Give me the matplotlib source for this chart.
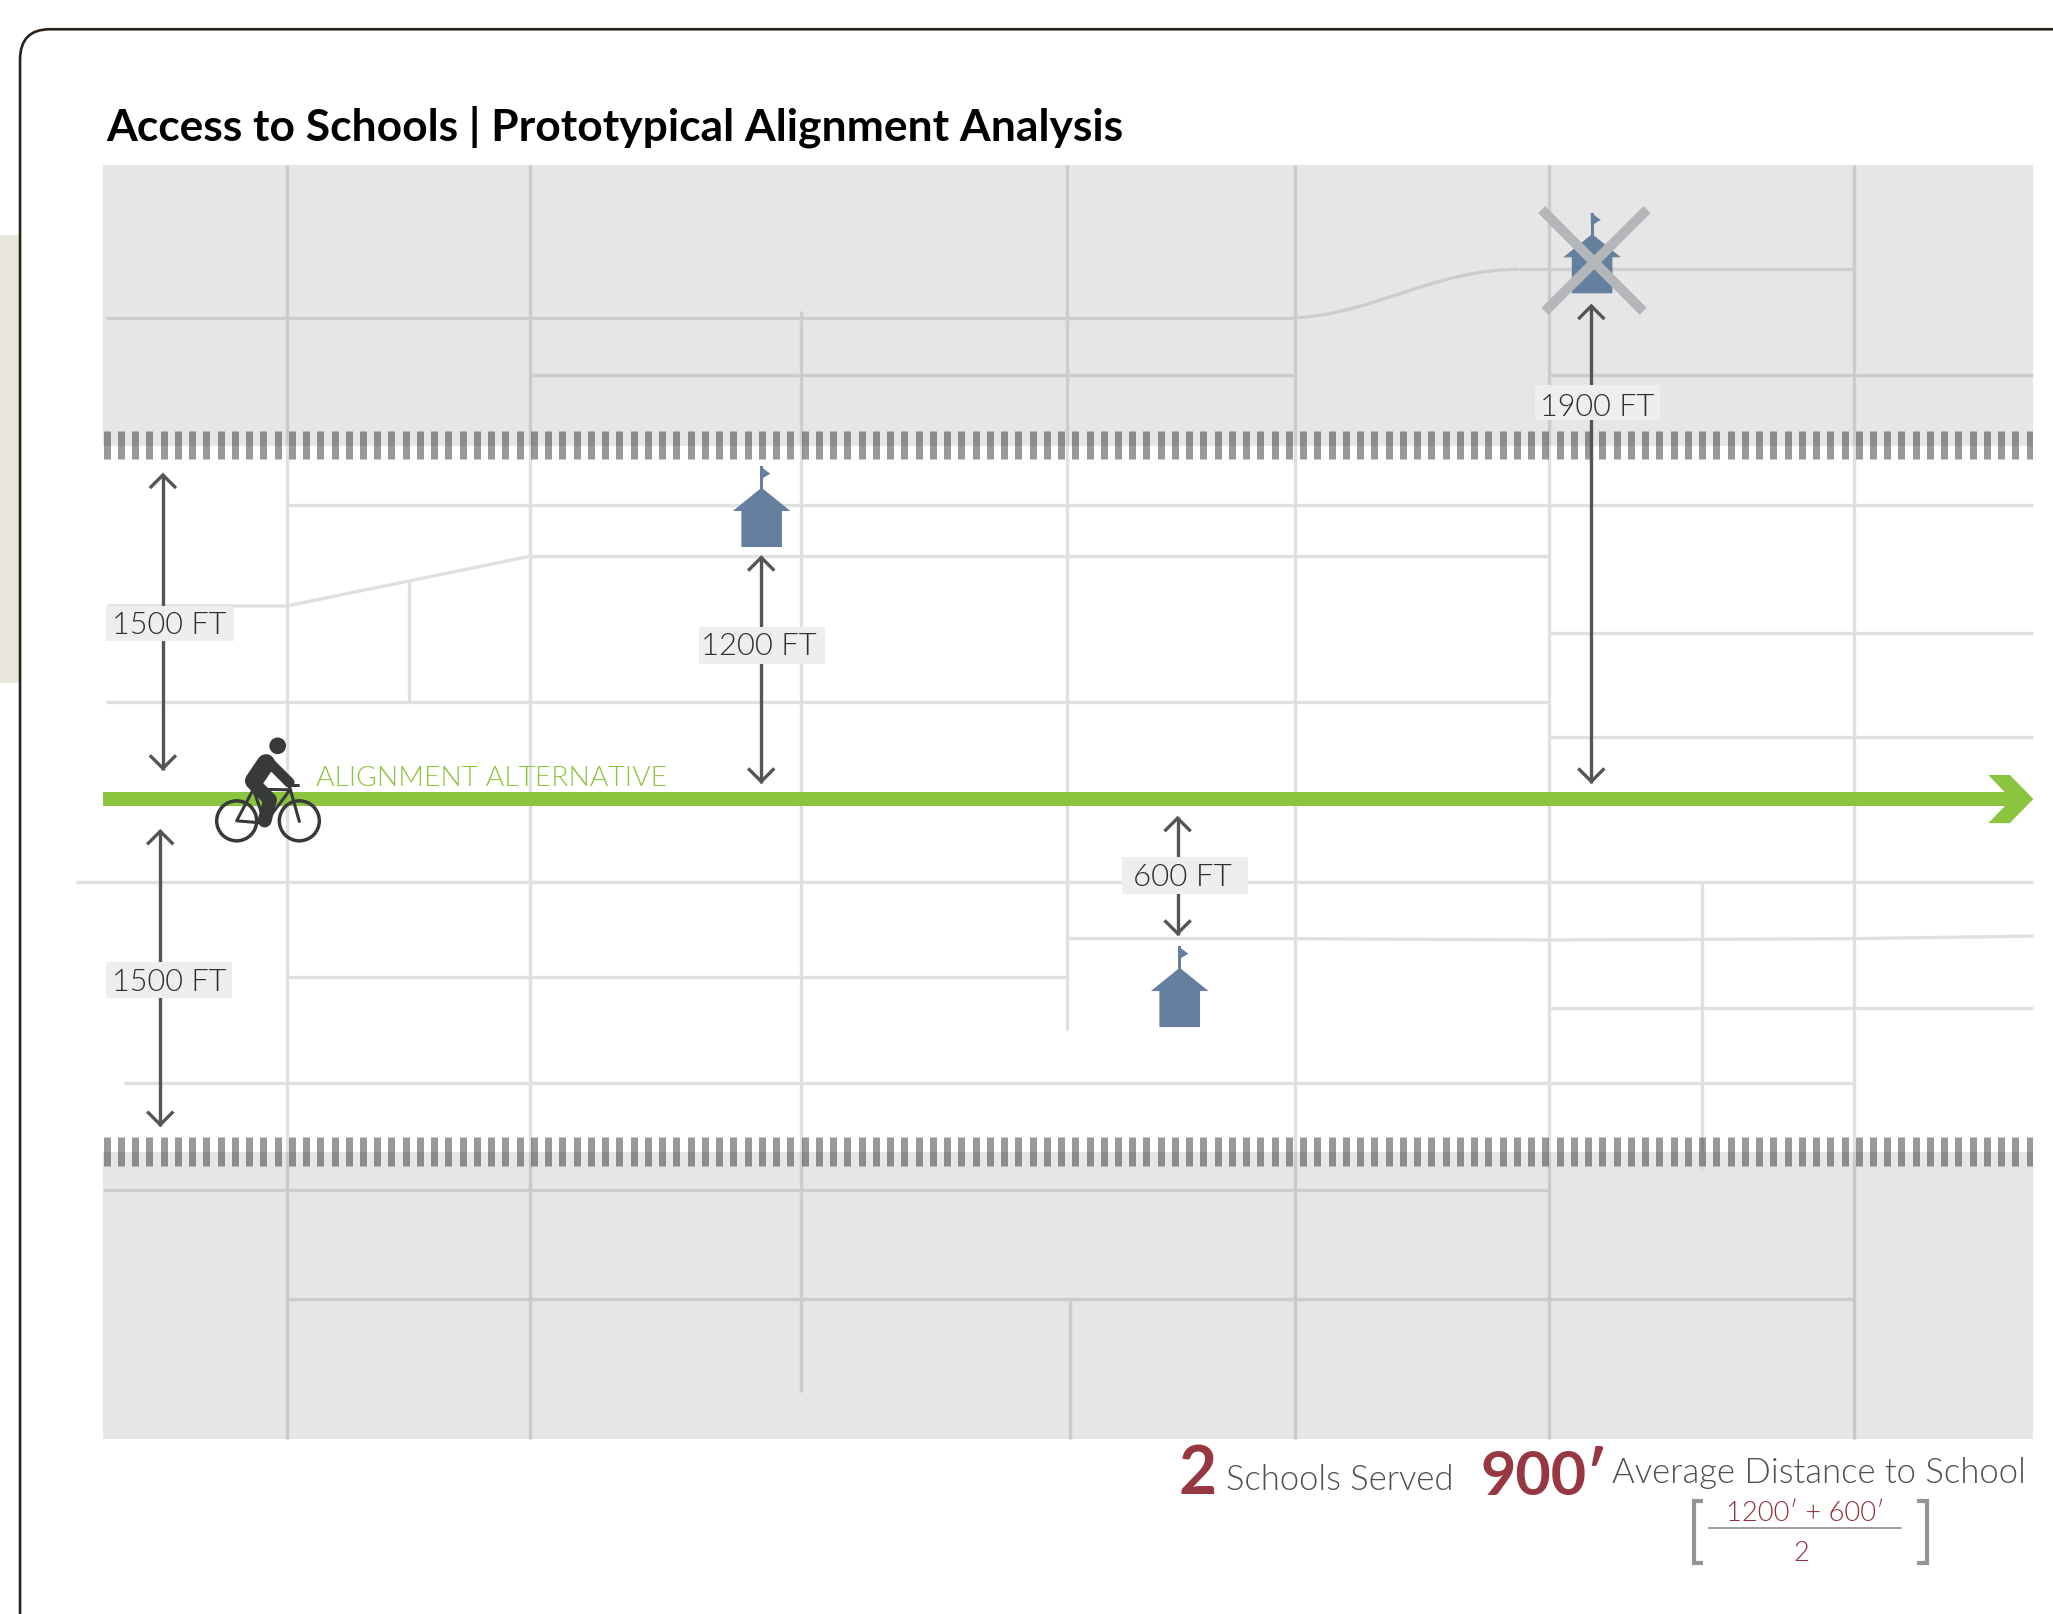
import numpy as np
import matplotlib
matplotlib.use("Agg")
import matplotlib.pyplot as plt
from matplotlib import font_manager as fm
from matplotlib.patches import Rectangle, Polygon, Circle
from matplotlib.path import Path
from matplotlib.patches import PathPatch

TITLE = "Access to Schools | Prototypical Alignment Analysis"
ALIGN_LABEL = "ALIGNMENT ALTERNATIVE"

# Road network (1568x1233 view units)
dark_vertical_x = [219, 405, 989, 1183, 1416]
roads_light = [
    [(219, 386), (1553, 386)], [(405, 425), (1183, 425)],
    [(82, 463), (219, 463), (405, 425)], [(312, 444), (312, 536)],
    [(81, 536), (1183, 536)], [(1183, 484), (1553, 484)], [(1183, 563), (1553, 563)],
    [(58, 674), (1553, 674)], [(815, 717), (989, 717), (1183, 718), (1416, 717), (1553, 715)],
    [(219, 746), (815, 746)], [(1183, 770), (1553, 770)], [(95, 827), (1416, 827)],
    [(1300, 674), (1300, 895)], [(815, 340), (815, 787)], [(612, 340), (612, 880)],
]
roads_dark = [
    [(81, 243), (989, 243)], [(1160, 206), (1416, 206)],
    [(405, 287), (989, 287)], [(1183, 287), (1553, 287)], [(612, 238), (612, 340)], [(815, 126), (815, 340)],
    [(79, 909), (1183, 909)], [(219, 992), (1416, 992)], [(817, 992), (817, 1099)], [(612, 880), (612, 1063)],
]
road_curve = [(989, 243), (1050, 240), (1095, 206), (1160, 206)]
rail_y = [340, 879.5]

# Distance annotations: x, y start, y end
arrows_x = [124.4, 122.4, 581.4, 899.4, 1215.4]
arrows_top = [362, 634, 425, 624, 233]
arrows_bottom = [588, 860, 598, 714, 598]

dist_labels = ["1500 FT", "1500 FT", "1200 FT", "600 FT", "1900 FT"]
box_x0 = [81, 81, 534, 857, 1172.5]
box_x1 = [179, 177, 630, 953, 1268]
box_y0 = [463, 735, 479, 655, 294]
box_y1 = [490, 762, 507, 683, 321]
label_x0 = [85.5, 85.5, 535.5, 865.5, 1176.5]
label_x1 = [173, 173, 624, 941, 1264]
label_base = [484, 756, 500, 676, 317.5]

school_x = [581.7, 901, 1216]
school_base = [418, 784.5, 224.3]

GREEN = "#8bc53f"
BLUE = "#657f9f"
RED = "#973742"
GREY_TXT = "#4f5052"
ARROW = "#555555"

# a real Light cut of Lato, if one is installed; otherwise Regular
light_path = None
for f in fm.fontManager.ttflist:
    base = f.fname.rsplit("/", 1)[-1].lower()
    if f.name == "Lato" and base in ("lato-light.ttf", "lato-light.otf"):
        light_path = f.fname
LIGHT = fm.FontProperties(fname=light_path) if light_path else fm.FontProperties(family="Lato", weight="normal")

fig = plt.figure(figsize=(20.53, 16.15), dpi=100)
ax = fig.add_axes([0, 0, 1, 1])
ax.set_xlim(0, 1568)
ax.set_ylim(1232.6, -0.4)
ax.axis("off")
renderer = fig.canvas.get_renderer()


def fit(s, x0, x1, base, color, prop=None, z=20):
    p = (prop if prop is not None else fm.FontProperties(family="Lato", weight="bold")).copy()
    p.set_size(20)
    t = ax.text(x0, base, s, color=color, fontproperties=p, ha="left", va="baseline", zorder=z)
    w = t.get_window_extent(renderer).width * 1568 / 2053
    t.set_fontsize(20 * (x1 - x0) / w)
    return t


# side panel + card border
ax.add_patch(Rectangle((0, 180), 15, 342, fc="#e9e6dd", ec="none", zorder=0))
ax.add_patch(PathPatch(Path([(1568, 22.7), (38, 22.7), (15.3, 22.7), (15.3, 46), (15.3, 1234)],
                            [Path.MOVETO, Path.LINETO, Path.CURVE3, Path.CURVE3, Path.LINETO]),
                       fc="none", ec="#2a2118", lw=1.9, zorder=1))

# gray land
ax.add_patch(Rectangle((79, 126), 1474, 214.6, fc="#e6e6e6", ec="none", zorder=1))
ax.add_patch(Rectangle((79, 879.5), 1474, 219.5, fc="#e6e6e6", ec="none", zorder=1))


def road(pts, color):
    a = np.array(pts)
    ax.plot(a[:, 0], a[:, 1], color=color, lw=2.4, solid_capstyle="butt", solid_joinstyle="round", zorder=2)


for r in roads_light:
    road(r, "#e0e0e0")
for r in roads_dark:
    road(r, "#cdcdcd")
ax.add_patch(PathPatch(Path(road_curve, [Path.MOVETO, Path.CURVE4, Path.CURVE4, Path.CURVE4]),
                       fc="none", ec="#cdcdcd", lw=2.4, capstyle="butt", zorder=2))
for x in dark_vertical_x:
    road([(x, 126), (x, 340)], "#cbcbcb")
    road([(x, 340), (x, 880)], "#e0e0e0")
    road([(x, 880), (x, 1099)], "#c9c9c9")

# rail ticks, clipped at the right edge of the map
for y in rail_y:
    ticks = np.arange(81.4, 1570, 10.88)
    coll = ax.vlines(ticks, y - 10.8, y + 10.8, color="#1e1e1e", alpha=0.45, lw=5.04, zorder=3)
    coll.set_clip_path(Rectangle((79, y - 12), 1474, 24, transform=ax.transData))

# alignment
ax.add_patch(Rectangle((79, 605), 1453, 11, fc=GREEN, ec="none", zorder=4))
ax.add_patch(Polygon([(1518.6, 592), (1535, 592), (1553, 610.4), (1535, 628.8), (1518.6, 628.8),
                      (1531, 616), (1531, 605)],
                     fc=GREEN, ec="none", zorder=4))
fit(ALIGN_LABEL, 241, 508, 600, GREEN, LIGHT)


# bicycle
def B(px, py):
    return (90 + px / 3) / 1.3093, (700 + py / 3) / 1.3093


def bline(pts, lw, z=6):
    p = np.array([B(*q) for q in pts])
    ax.plot(p[:, 0], p[:, 1], color="#383a39", lw=lw, solid_capstyle="round", solid_joinstyle="round", zorder=z)


for cx in (440, 628):
    c = B(cx, 363)
    ax.add_patch(Circle(c, 60 / 3 / 1.3093, fc="none", ec="#383a39", lw=2.5, zorder=6))
for seg in [[(490, 268), (440, 363), (525, 370), (600, 270), (490, 268)], [(490, 268), (525, 370)],
            [(598, 258), (628, 365)], [(598, 257), (625, 257)]]:
    bline(seg, 2.2)
bline([(528, 190), (492, 243)], 13.0)
bline([(540, 190), (598, 248)], 7.5)
bline([(495, 255), (540, 300), (524, 362)], 10.0)
ax.add_patch(Circle(B(563, 138), 25 / 3 / 1.3093, fc="#383a39", ec="none", zorder=6))

# distance arrows
for x, y0, y1 in zip(arrows_x, arrows_top, arrows_bottom):
    ax.plot([x, x], [y0, y1], color=ARROW, lw=2.4, solid_capstyle="butt", zorder=7)
    ax.plot([x - 10, x, x + 10], [y0 + 11, y0 + 1, y0 + 11], color=ARROW, lw=2.4, solid_capstyle="butt",
            solid_joinstyle="miter", zorder=7)
    ax.plot([x - 10, x, x + 10], [y1 - 11, y1 - 1, y1 - 11], color=ARROW, lw=2.4, solid_capstyle="butt",
            solid_joinstyle="miter", zorder=7)

for s, a, b, c, d, e, f, g in zip(dist_labels, box_x0, box_x1, box_y0, box_y1, label_x0, label_x1, label_base):
    ax.add_patch(Rectangle((a, c), b - a, d - c, fc="#eeeeee", ec="none", zorder=8))
    fit(s, e, f, g, "#2e2e2e", LIGHT, z=9)


# schools
def school(x, base):
    ax.add_patch(Polygon([(x - 15.5, base), (x + 15.5, base), (x + 15.5, base - 27.5), (x + 22, base - 27.5),
                          (x, base - 45.3), (x - 22, base - 27.5), (x - 15.5, base - 27.5)],
                         fc=BLUE, ec="none", zorder=10))
    ax.add_patch(Rectangle((x - 1.1, base - 61.6), 2.2, 17, fc=BLUE, ec="none", zorder=10))
    ax.add_patch(Polygon([(x - 1, base - 61.6), (x + 6.6, base - 56), (x - 1, base - 51.5)], fc=BLUE, ec="none", zorder=10))


for x, b in zip(school_x, school_base):
    school(x, b)

# cross-out
ax.plot([1177.5, 1255], [160.4, 238], color="#b5b6b9", lw=7.2, solid_capstyle="butt", zorder=11)
ax.plot([1258, 1180], [160.4, 238], color="#b5b6b9", lw=7.2, solid_capstyle="butt", zorder=11)

# title
fit(TITLE, 81, 858, 107, "#000000")

# summary
fit("2", 900, 929, 1140, RED)
fit("Schools Served", 936.5, 1111, 1137, GREY_TXT, LIGHT)
fit("900\u2032", 1131, 1228, 1141, RED)
fit("Average Distance to School", 1231, 1548, 1132, GREY_TXT, LIGHT)
fit("1200\u2032 + 600\u2032", 1318, 1439, 1161, "#8f2f3b", LIGHT)
fit("2", 1369.5, 1381.5, 1191, "#8f2f3b", LIGHT)
ax.plot([1305, 1452], [1167, 1167], color="#8c8c8c", lw=1.2, zorder=20)
ax.plot([1300.5, 1293.5, 1293.5, 1300.5], [1146, 1146, 1193.5, 1193.5], color="#949494", lw=3.0,
        solid_joinstyle="miter", solid_capstyle="butt", zorder=20)
ax.plot([1464, 1471.5, 1471.5, 1464], [1146, 1146, 1193.5, 1193.5], color="#949494", lw=3.0,
        solid_joinstyle="miter", solid_capstyle="butt", zorder=20)

fig.savefig("out.png", dpi=100, facecolor="white")
